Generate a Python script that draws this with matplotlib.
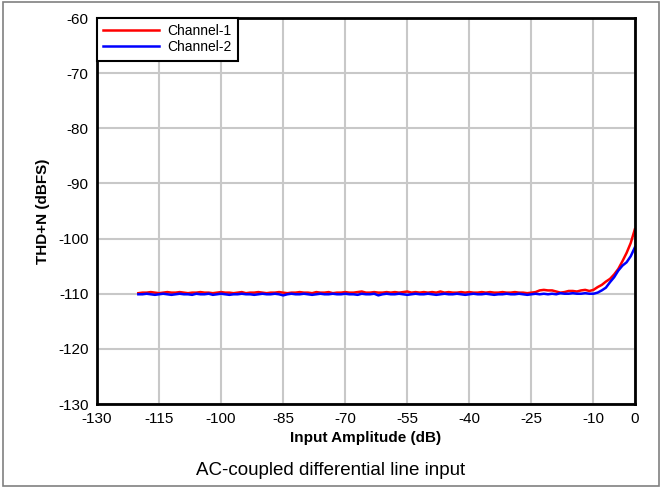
import numpy as np
import matplotlib
matplotlib.use("Agg")
import matplotlib.pyplot as plt
from matplotlib.patches import Rectangle

plt.rcParams["font.family"] = ["Liberation Sans", "DejaVu Sans"]
plt.rcParams["axes.unicode_minus"] = False

# input amplitude, 1 dB steps from -120 dB to 0 dB
amplitude = np.arange(-120, 1)

channel_1 = [
    -109.9, -109.8, -109.8, -109.7, -109.8, -109.9, -109.8, -109.7, -109.8, -109.8,
    -109.7, -109.8, -109.9, -109.8, -109.8, -109.7, -109.8, -109.8, -109.9, -109.8,
    -109.7, -109.8, -109.8, -109.9, -109.8, -109.7, -109.9, -109.8, -109.8, -109.7,
    -109.8, -109.9, -109.8, -109.8, -109.7, -109.8, -109.9, -109.8, -109.8, -109.7,
    -109.8, -109.8, -109.9, -109.7, -109.8, -109.8, -109.7, -109.9, -109.8, -109.8,
    -109.7, -109.8, -109.8, -109.7, -109.6, -109.8, -109.8, -109.7, -109.8, -109.8,
    -109.7, -109.8, -109.7, -109.8, -109.7, -109.6, -109.8, -109.7, -109.8, -109.7,
    -109.8, -109.7, -109.8, -109.6, -109.8, -109.7, -109.8, -109.8, -109.7, -109.8,
    -109.7, -109.8, -109.8, -109.7, -109.8, -109.7, -109.8, -109.8, -109.7, -109.8,
    -109.8, -109.7, -109.8, -109.8, -109.9, -109.8, -109.7, -109.4, -109.3, -109.4,
    -109.4, -109.6, -109.8, -109.7, -109.5, -109.5, -109.6, -109.4, -109.3, -109.5,
    -109.3, -108.8, -108.4, -107.8, -107.3, -106.5, -105.5, -104.1, -102.6, -100.8,
    -98.3,
]

channel_2 = [
    -110.1, -110.1, -110.0, -110.1, -110.2, -110.1, -110.0, -110.1, -110.2, -110.1,
    -110.0, -110.1, -110.1, -110.2, -110.0, -110.1, -110.1, -110.0, -110.2, -110.1,
    -110.0, -110.1, -110.2, -110.1, -110.1, -110.0, -110.1, -110.1, -110.2, -110.1,
    -110.0, -110.1, -110.1, -110.0, -110.1, -110.3, -110.1, -110.0, -110.1, -110.1,
    -110.0, -110.1, -110.2, -110.1, -110.0, -110.1, -110.1, -110.0, -110.1, -110.1,
    -110.0, -110.1, -110.1, -110.2, -110.0, -110.1, -110.1, -110.0, -110.3, -110.1,
    -110.0, -110.1, -110.1, -110.0, -110.1, -110.2, -110.1, -110.0, -110.1, -110.1,
    -110.0, -110.1, -110.2, -110.1, -110.0, -110.1, -110.1, -110.0, -110.1, -110.2,
    -110.1, -110.0, -110.1, -110.1, -110.0, -110.1, -110.2, -110.1, -110.1, -110.0,
    -110.1, -110.1, -110.0, -110.1, -110.2, -110.1, -110.0, -110.1, -110.0, -110.1,
    -110.0, -110.1, -109.9, -110.0, -110.0, -109.9, -110.0, -110.0, -109.9, -110.0,
    -110.0, -109.8, -109.4, -108.9, -107.9, -107.0, -105.8, -104.9, -104.3, -103.2,
    -101.6,
]

x_ticks = [-130, -115, -100, -85, -70, -55, -40, -25, -10, 0]
y_ticks = [-130, -120, -110, -100, -90, -80, -70, -60]

fig = plt.figure(figsize=(6.62, 4.87), dpi=100)
ax = fig.add_axes([0.1465, 0.1704, 0.8125, 0.7926])

ax.plot(amplitude, channel_1, color="#ff0000", lw=1.8, label="Channel-1")
ax.plot(amplitude, channel_2, color="#0000ff", lw=1.8, label="Channel-2")

ax.set_xlim(-130, 0)
ax.set_ylim(-130, -60)
ax.set_xticks(x_ticks)
ax.set_yticks(y_ticks)
ax.tick_params(length=0, labelsize=11, pad=6)
ax.grid(color="#c8c8c8", lw=1.5)
ax.set_axisbelow(True)
for s in ax.spines.values():
    s.set_linewidth(2)
    s.set_color("black")

ax.set_xlabel("Input Amplitude (dB)", fontsize=11, fontweight="bold", labelpad=3)
ax.set_ylabel("THD+N (dBFS)", fontsize=11, fontweight="bold", labelpad=6)

leg = ax.legend(loc="upper left", fontsize=10, fancybox=False, framealpha=1,
                edgecolor="black", borderaxespad=0, handlelength=4.0,
                borderpad=0.45, labelspacing=0.15, handletextpad=0.6)
leg.get_frame().set_linewidth(1.5)

fig.text(0.5, 0.024, "AC-coupled differential line input", ha="center", fontsize=13.5)

fig.patches.append(Rectangle((0.004, 0.002), 0.992, 0.994, transform=fig.transFigure,
                             fill=False, edgecolor="#808080", lw=1.2))

fig.savefig("out.png", dpi=100)
